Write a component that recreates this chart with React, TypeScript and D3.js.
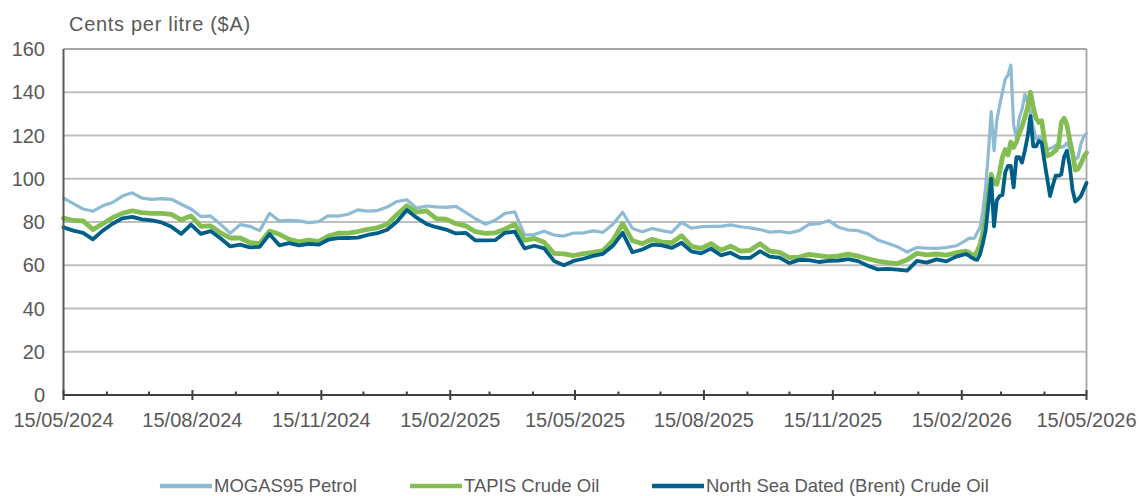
import React, { useEffect, useRef } from "react";
import * as d3 from "d3";

/* weekly samples, then every 2nd day through the 2026 spike */
const dates = [
  "2024-05-15", "2024-05-22", "2024-05-29", "2024-06-05", "2024-06-12", "2024-06-19", "2024-06-26", "2024-07-03", "2024-07-10", "2024-07-17",
  "2024-07-24", "2024-07-31", "2024-08-07", "2024-08-14", "2024-08-21", "2024-08-28", "2024-09-04", "2024-09-11", "2024-09-18", "2024-09-25",
  "2024-10-02", "2024-10-09", "2024-10-16", "2024-10-23", "2024-10-30", "2024-11-06", "2024-11-13", "2024-11-20", "2024-11-27", "2024-12-04",
  "2024-12-11", "2024-12-18", "2024-12-25", "2025-01-01", "2025-01-08", "2025-01-15", "2025-01-22", "2025-01-29", "2025-02-05", "2025-02-12",
  "2025-02-19", "2025-02-26", "2025-03-05", "2025-03-12", "2025-03-19", "2025-03-26", "2025-04-02", "2025-04-09", "2025-04-16", "2025-04-23",
  "2025-04-30", "2025-05-07", "2025-05-14", "2025-05-21", "2025-05-28", "2025-06-04", "2025-06-11", "2025-06-18", "2025-06-25", "2025-07-02",
  "2025-07-09", "2025-07-16", "2025-07-23", "2025-07-30", "2025-08-06", "2025-08-13", "2025-08-20", "2025-08-27", "2025-09-03", "2025-09-10",
  "2025-09-17", "2025-09-24", "2025-10-01", "2025-10-08", "2025-10-15", "2025-10-22", "2025-10-29", "2025-11-05", "2025-11-12", "2025-11-19",
  "2025-11-26", "2025-12-03", "2025-12-10", "2025-12-17", "2025-12-24", "2025-12-31", "2026-01-07", "2026-01-14", "2026-01-21", "2026-01-28",
  "2026-02-04", "2026-02-11", "2026-02-18",
  "2026-02-20", "2026-02-22", "2026-02-24", "2026-02-26", "2026-02-28", "2026-03-02", "2026-03-04", "2026-03-06", "2026-03-08", "2026-03-10",
  "2026-03-12", "2026-03-14", "2026-03-16", "2026-03-18", "2026-03-20", "2026-03-22", "2026-03-24", "2026-03-26", "2026-03-28", "2026-03-30",
  "2026-04-01", "2026-04-03", "2026-04-05", "2026-04-07", "2026-04-09", "2026-04-11", "2026-04-13", "2026-04-15", "2026-04-17", "2026-04-19",
  "2026-04-21", "2026-04-23", "2026-04-25", "2026-04-27", "2026-04-29", "2026-05-01", "2026-05-03", "2026-05-05", "2026-05-07", "2026-05-09",
  "2026-05-11", "2026-05-13", "2026-05-15",
];

const mogas = [
  91, 88.5, 86, 85, 87.5, 89, 92, 93.5, 91, 90.5,
  90.8, 90.5, 88.2, 86, 82.5, 82.8, 79, 74.8, 78.8, 78,
  76, 84, 80.5, 80.8, 80.5, 79.7, 80.2, 82.9, 82.7, 83.6,
  85.6, 85, 85.3, 86.9, 89.5, 90.3, 86.4, 87.4, 87, 86.8,
  87.2, 84.4, 81.5, 79, 80.8, 84, 84.7, 74, 74.2, 75.7,
  74, 73.5, 74.9, 75, 75.9, 75.2, 79, 84.5, 77, 75.5,
  77, 76, 75.2, 79.8, 77.2, 77.8, 78, 78, 78.7, 77.8,
  77.3, 76.5, 75.3, 75.7, 75, 76, 78.9, 79.2, 80.6, 77.6,
  76.3, 76, 74.5, 71.7, 70.2, 68.6, 66.1, 68.2, 67.9, 67.8,
  68.2, 69, 71.5,
  72.4, 72.4, 72.5, 75, 77.5, 85, 96, 112, 131, 113,
  127, 134, 140, 146, 148, 152.5, 125, 118.5, 128, 132,
  139, 135, 131, 124, 118.5, 119, 119, 113, 113.5, 114,
  114.5, 115.5, 116, 114.5, 115, 116.5, 114, 111, 109, 110,
  116, 119.5, 121,
];

const tapis = [
  81.8, 80.7, 80.5, 76.5, 79.2, 82, 84, 85.2, 84.3, 84,
  84, 83.5, 81, 82.8, 78, 78.2, 75, 72.6, 72.6, 70.5,
  70, 75.8, 74.3, 72, 70.8, 71.6, 70.9, 73.5, 74.8, 74.9,
  75.6, 76.6, 77.3, 79, 83.5, 87.5, 84.6, 85.2, 81.6, 81.3,
  79.2, 78.2, 75.5, 74.7, 75, 76.7, 79, 71.5, 72.4, 70.6,
  65.5, 65.3, 64.5, 65.4, 66, 66.8, 71.5, 79.3, 71.3, 70,
  72, 70.7, 70.4, 73.7, 68.8, 67.8, 70, 67, 68.8, 66.5,
  66.9, 70, 66.5, 66, 63.5, 63.8, 65, 64.5, 63.9, 64.3,
  65.1, 64.2, 63, 61.9, 61.2, 60.8, 62.5, 65.5, 64.8, 65.2,
  64.7, 65.8, 66.5,
  66, 65, 64.5, 66.5, 69.5, 75, 82, 93, 102, 98,
  97.5, 103, 110, 113.5, 111, 117, 114.5, 117, 121, 124,
  128.5, 133, 140, 133, 128, 126, 126.8, 118, 110.6, 111,
  112, 113, 115, 126, 128, 125, 118, 112, 104, 104.5,
  107, 110, 112,
];

const brent = [
  77.5, 76, 75, 72, 76, 79.2, 81.7, 82.4, 81.2, 80.7,
  79.8, 77.8, 74.5, 78.8, 74.5, 75.8, 72.5, 68.7, 69.5, 68.3,
  68.5, 74.4, 69.2, 70.2, 69.2, 69.9, 69.5, 71.8, 72.5, 72.6,
  72.8, 74, 74.8, 76.4, 80.2, 85.5, 82, 79.1, 77.6, 76.5,
  74.7, 75, 71.5, 71.5, 71.6, 75, 75.5, 67.8, 69, 67.8,
  62, 60, 62, 63, 64.3, 65.3, 69, 75, 66, 67.3,
  69.5, 69.2, 68, 70.4, 66.4, 65.5, 67.7, 64.6, 65.8, 63.4,
  63.4, 66.5, 64, 63.5, 61, 62.5, 62.4, 61.5, 62, 62.2,
  62.8, 61.9, 59.8, 58.1, 58.3, 58, 57.5, 62, 61.2, 62.7,
  61.8, 64, 65.2,
  64.5, 63.5, 62.8, 62.5, 65, 70, 76, 88, 100, 78,
  90, 92, 92.5, 103, 106, 106, 96, 110, 110, 107.5,
  113, 119.5, 129, 115, 115, 117.5, 116.6, 108, 100, 92,
  97, 101.4, 101.4, 102, 110, 113, 106, 95, 89.5, 90.5,
  92, 95, 98,
];

const seriesNames = ["MOGAS95 Petrol", "TAPIS Crude Oil", "North Sea Dated (Brent) Crude Oil"];
const yTicks = [0, 20, 40, 60, 80, 100, 120, 140, 160];
const xTickLabels = [
  "15/05/2024", "15/08/2024", "15/11/2024", "15/02/2025", "15/05/2025",
  "15/08/2025", "15/11/2025", "15/02/2026", "15/05/2026",
];
const yTitle = "Cents per litre ($A)";

const App = () => {
  const ref = useRef<SVGSVGElement>(null);

  useEffect(() => {
    const width = 1141;
    const height = 496;
    const left = 63.5;
    const right = 1086.5;
    const top = 49;
    const bottom = 395;
    const font = "'Liberation Sans', Arial, sans-serif";
    const textColor = "#595959";
    const colors = ["#8DBBD3", "#84BD52", "#005F88"];
    const widths = [3.2, 4.8, 3.8];

    const parseDate = d3.timeParse("%Y-%m-%d");
    const parseLabel = d3.timeParse("%d/%m/%Y");
    const xs = dates.map((d) => parseDate(d) as Date);

    const svg = d3.select(ref.current);
    svg.selectAll("*").remove();
    svg.attr("width", width).attr("height", height);

    const start = parseLabel(xTickLabels[0]) as Date;
    const end = parseLabel(xTickLabels[xTickLabels.length - 1]) as Date;
    const x = d3.scaleTime().domain([start, end]).range([left, right]);
    const y = d3.scaleLinear().domain([0, 160]).range([bottom, top]);

    /* gridlines */
    svg
      .append("g")
      .selectAll("line")
      .data(yTicks.filter((t) => t > 0))
      .join("line")
      .attr("x1", left)
      .attr("x2", right)
      .attr("y1", (d) => y(d))
      .attr("y2", (d) => y(d))
      .attr("stroke", (d) => (d === 160 ? "#A6A6A6" : "#BEBEBE"))
      .attr("stroke-width", 1.8);

    /* right border */
    svg
      .append("line")
      .attr("x1", right)
      .attr("x2", right)
      .attr("y1", y(160))
      .attr("y2", bottom)
      .attr("stroke", "#A6A6A6")
      .attr("stroke-width", 1.8);

    /* y labels */
    svg
      .append("g")
      .selectAll("text")
      .data(yTicks)
      .join("text")
      .attr("x", 45)
      .attr("y", (d) => y(d) + 7)
      .attr("text-anchor", "end")
      .attr("font-family", font)
      .attr("font-size", 20)
      .attr("fill", textColor)
      .text((d) => d);

    /* title */
    svg
      .append("text")
      .attr("x", 69)
      .attr("y", 30.5)
      .attr("font-family", font)
      .attr("font-size", 20)
      .attr("letter-spacing", 0.7)
      .attr("fill", textColor)
      .text(yTitle);

    /* lines: petrol first, brent on top */
    const series = [mogas, tapis, brent];
    const line = d3
      .line<number>()
      .x((_, i) => x(xs[i]))
      .y((d) => y(d));

    series.forEach((vals, i) => {
      svg
        .append("path")
        .datum(vals)
        .attr("d", line)
        .attr("fill", "none")
        .attr("stroke", colors[i])
        .attr("stroke-width", widths[i])
        .attr("stroke-linejoin", "round")
        .attr("stroke-linecap", "round");
    });

    /* axes */
    svg
      .append("line")
      .attr("x1", left)
      .attr("x2", left)
      .attr("y1", y(160))
      .attr("y2", bottom)
      .attr("stroke", "#595959")
      .attr("stroke-width", 2);

    svg
      .append("line")
      .attr("x1", left)
      .attr("x2", right)
      .attr("y1", bottom)
      .attr("y2", bottom)
      .attr("stroke", "#404040")
      .attr("stroke-width", 2);

    /* monthly ticks, longer at each quarter */
    const months = d3.range(0, 25).map((i) => d3.timeMonth.offset(start, i));
    svg
      .append("g")
      .selectAll("line")
      .data(months)
      .join("line")
      .attr("x1", (d) => x(d))
      .attr("x2", (d) => x(d))
      .attr("y1", (_, i) => (i % 3 === 0 ? bottom - 5 : bottom - 3.5))
      .attr("y2", (_, i) => (i % 3 === 0 ? bottom + 5 : bottom))
      .attr("stroke", "#404040")
      .attr("stroke-width", 2);

    svg
      .append("g")
      .selectAll("text")
      .data(xTickLabels)
      .join("text")
      .attr("x", (d) => x(parseLabel(d) as Date))
      .attr("y", 426.5)
      .attr("text-anchor", "middle")
      .attr("font-family", font)
      .attr("font-size", 20)
      .attr("fill", textColor)
      .text((d) => d);

    /* legend */
    const legendX = [160, 410, 652];
    const legend = svg
      .append("g")
      .selectAll("g")
      .data(seriesNames)
      .join("g")
      .attr("transform", (_, i) => `translate(${legendX[i]}, 486)`);

    legend
      .append("line")
      .attr("x1", 0)
      .attr("x2", 52)
      .attr("stroke", (_, i) => colors[i])
      .attr("stroke-width", 4.5);

    legend
      .append("text")
      .attr("x", 54)
      .attr("y", 6)
      .attr("font-family", font)
      .attr("font-size", 18.5)
      .attr("fill", textColor)
      .text((d) => d);
  }, []);

  return <svg ref={ref} style={{ position: "absolute", left: 0, top: 0 }} />;
};

export default App;
